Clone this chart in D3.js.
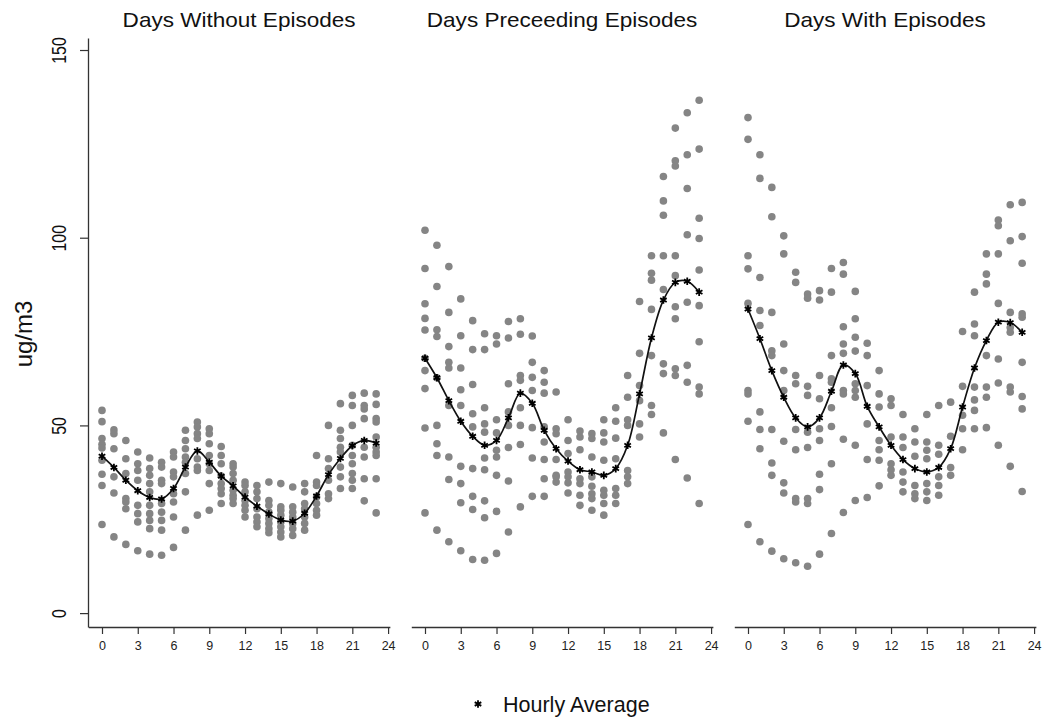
<!DOCTYPE html>
<html>
<head>
<meta charset="utf-8">
<script src="https://cdn.jsdelivr.net/npm/d3@7"></script>
<style>
  body { margin: 0; background: #fff; }
  svg { font-family: "Liberation Sans", Arial, Helvetica, sans-serif; }
</style>
</head>
<body>
<svg id="chart" width="1047" height="721"></svg>
<script>
// panel titles
const panels = ["Days Without Episodes", "Days Preceeding Episodes", "Days With Episodes"];
const hours = d3.range(24);
const xTicks = [0, 3, 6, 9, 12, 15, 18, 21, 24];
const yTicks = [0, 50, 100, 150];

// hourly averages, one per panel
const avgWithout = [41.8, 38.8, 35.4, 32.6, 30.8, 30.4, 33.2, 38.9, 43.2, 40.2, 36.5, 33.9, 30.9, 28.5, 26.4, 24.8, 24.5, 26.6, 31.2, 36.9, 41.2, 44.6, 46.0, 45.3];
const avgPreceeding = [67.9, 62.7, 56.6, 51.1, 47.1, 44.7, 46.0, 52.0, 58.6, 55.9, 48.7, 43.8, 40.5, 38.2, 37.6, 36.7, 38.5, 44.7, 58.4, 73.3, 83.4, 88.1, 88.4, 85.5];
const avgWith = [81.0, 73.1, 64.6, 57.5, 52.0, 49.6, 52.0, 59.1, 66.1, 63.8, 55.1, 49.6, 44.7, 40.9, 38.5, 37.6, 38.8, 43.8, 54.9, 65.3, 72.6, 77.5, 77.4, 74.8];

// daily observations, one list per hour
const obsWithout = [
  [54, 51, 46.5, 45, 44, 40.7, 37, 34, 23.6],
  [48.8, 47.8, 43.8, 36.3, 32, 20.3],
  [46, 41.1, 37.2, 30.5, 29.6, 27.8, 18.3],
  [42.9, 39.8, 38, 35.4, 28.7, 26.5, 24.3, 16.6],
  [41.3, 38.5, 36.7, 34.5, 32.3, 28.7, 26.5, 24.7, 22.5, 15.7],
  [40.2, 38.9, 35.4, 34.5, 29.2, 26.9, 24.7, 22.1, 15.4],
  [42.9, 41.6, 37.6, 36.3, 31.8, 29.6, 25.6, 17.5],
  [48.7, 46, 43.8, 41.6, 40.2, 37.2, 32.3, 22.1],
  [50.9, 49.6, 47.8, 46.5, 41.1, 38.9, 38, 26.1],
  [49.1, 47.8, 45.1, 42, 39.8, 38, 34.5, 27.4],
  [44.4, 42, 39.8, 36.5, 34.5, 33.2, 31.8, 29.2],
  [39.8, 38.9, 37.2, 35.4, 32.7, 31.4, 30.5, 29.2],
  [34.9, 34, 32.3, 30, 28.7, 27.4, 25.6],
  [34, 32.3, 30.5, 27.8, 25.6, 24.3, 23],
  [34.9, 30, 28.7, 26.9, 25.2, 23.9, 22.5, 21.4],
  [34.5, 28.3, 27.4, 26.1, 24.3, 23, 21.6, 20.3],
  [33.6, 28.3, 26.9, 25.6, 23.9, 22.5, 20.7],
  [34.5, 32.3, 29.2, 27.8, 25.6, 23.9, 22.1],
  [42, 34.9, 34, 30.9, 29.2, 27.4, 26.1],
  [50, 41.1, 38.5, 35.4, 31.8, 30.5],
  [55.8, 48.7, 46.5, 44.2, 42.9, 38.9, 36.3, 33.2],
  [58, 55.3, 50, 44.7, 42, 39.8, 37.2, 35.4, 33.2],
  [58.6, 55.3, 54.4, 51.8, 44.2, 41.6, 35.8, 29.9],
  [58.4, 55.6, 51.8, 50.9, 46.9, 44.2, 42.9, 42, 35.8, 26.7]
];
const obsPreceeding = [
  [102, 91.8, 82.4, 78.5, 75.4, 67.9, 64.6, 59.8, 49.3, 26.7],
  [98, 87, 75.5, 73.7, 62.7, 50, 45.1, 42, 22.1],
  [92.3, 80.1, 71, 66.8, 65.3, 55.3, 41.6, 35.6, 19],
  [83.7, 73.9, 65.3, 59.5, 55.3, 39.1, 34.5, 29.4, 16.6],
  [77.9, 70.2, 60.9, 53.1, 49.6, 38.5, 31.1, 27.6, 14.3],
  [74.4, 70.2, 54.7, 50.4, 48.2, 41.3, 38.2, 29.9, 25.4, 14.1],
  [73.9, 71.7, 51.5, 48, 43.4, 41.6, 36.7, 27.1, 15.9],
  [77.7, 73.3, 61.1, 53.6, 50, 44.1, 35.2, 21.6],
  [78.4, 74.3, 63.3, 62, 54.7, 50, 44.9, 28.3],
  [73.8, 66.8, 62.8, 59.3, 49.4, 41.3, 31.1],
  [64.6, 61.5, 58.6, 49.6, 45.6, 40.9, 35.8, 31.1],
  [58.9, 49.1, 47.8, 40.9, 36.7, 36.3, 34.9],
  [51.5, 46, 42.5, 37.6, 36.3, 34.7, 32],
  [48.5, 46.9, 43.5, 35.8, 34.5, 31.4, 28.7],
  [47.8, 46.5, 41.6, 36.3, 33.8, 31.8, 30.5, 27.4],
  [51.5, 48, 45.6, 40.7, 32.7, 31.4, 29.2, 26.1],
  [54.7, 51.1, 46.6, 41.1, 33.2, 31.4, 29.2],
  [63.3, 57.5, 51.5, 50, 38, 36.3, 34.5],
  [83, 69.2, 60.6, 56.6, 50.4, 46.9],
  [95.2, 90.5, 88.7, 80.9, 68.6, 55.3, 52.9],
  [116.3, 109.8, 106, 95.2, 86.2, 66.4, 63.8, 48],
  [129.2, 120.5, 119.1, 95.2, 89.9, 81.6, 78.4, 65.1, 63.3, 40.9],
  [133.3, 122.1, 113.1, 100.8, 82.8, 66, 61.5, 36],
  [136.6, 123.6, 105.2, 99.8, 91.4, 81.9, 72.3, 60.2, 58.4, 29.2]
];
const obsWith = [
  [132, 126.2, 95.2, 91.7, 82.5, 59.3, 58.4, 51.1, 23.6],
  [122.1, 115.8, 89.4, 80.6, 76.6, 53.6, 48.9, 43.8, 19],
  [113.4, 105.6, 80.1, 69.9, 68.6, 48.9, 40, 36.7, 16.5],
  [100.5, 95.7, 71.7, 64.6, 59.3, 45.8, 34.7, 32, 14.5],
  [90.8, 88.1, 63.3, 61.1, 48.9, 43.5, 30.5, 29.6, 13.4],
  [85, 83.9, 60.4, 58, 48.2, 44.1, 30.5, 29.2, 12.5],
  [85.9, 83.4, 63.3, 57.1, 49.1, 46, 37, 32.9, 15.7],
  [91.8, 85.5, 68.6, 62.4, 61.5, 54.7, 49.7, 39.8, 21.2],
  [93.4, 90.3, 76.3, 71.7, 69.2, 59.3, 58.4, 46.3, 26.8],
  [85.7, 78.4, 73.5, 69.8, 61.1, 59.3, 57.5, 44.7, 30],
  [71.9, 68.6, 60.6, 50.4, 40.9, 30.8],
  [64.6, 58.4, 54.9, 46, 43.5, 40.7, 33.9],
  [57.1, 55.3, 46.9, 39.8, 38.2, 36.7],
  [52.9, 46.9, 44.1, 37.6, 34.9, 32.3],
  [49.1, 45.6, 41.8, 34, 31.8, 30.5],
  [52.9, 45.6, 43.4, 41.1, 34.5, 32.3, 30],
  [55.3, 44.7, 42.3, 36.3, 34, 31.4],
  [56.2, 47.1, 38.8, 36.7],
  [75, 60.4, 52.7, 49.1, 43.5],
  [85.5, 77, 73.9, 60.2, 56.8, 54, 49.1],
  [95.7, 90.3, 87.7, 68.6, 60.2, 57.5, 49.4],
  [104.7, 103.2, 95.7, 82.5, 67.7, 61.3, 44.7],
  [108.8, 99.2, 80.1, 76.1, 74.8, 60.2, 58.9, 39.1],
  [109.4, 100.3, 93.2, 79.7, 78.8, 66.8, 57.7, 54.4, 32.4]
];

const averages = [avgWithout, avgPreceeding, avgWith];
const observations = [obsWithout, obsPreceeding, obsWith];

const svg = d3.select("#chart");
const hourPx = 11.92;
const panelLeft = [102, 425, 748];   // pixel of hour 0 in each panel

const y = d3.scaleLinear().domain([-3.7, 153.2]).range([627, 38]);

// y axis, only on the first panel
const yAxis = svg.append("g")
    .attr("transform", "translate(88,0)")
    .call(d3.axisLeft(y).tickValues(yTicks).tickSize(8).tickSizeOuter(0).tickPadding(6));
yAxis.select(".domain").attr("stroke", "#333").attr("stroke-width", 1.3);
yAxis.selectAll(".tick line").attr("stroke", "#333").attr("stroke-width", 1.2);
yAxis.selectAll(".tick text")
    .attr("text-anchor", "middle")
    .attr("x", 0).attr("dy", 0)
    .attr("transform", "translate(-22,0) scale(1.3,1) rotate(-90)")
    .attr("font-size", 16).attr("fill", "#111");

svg.append("text")
    .attr("transform", "translate(32,334) rotate(-90)")
    .attr("text-anchor", "middle")
    .attr("font-size", 24)
    .attr("fill", "#111")
    .text("ug/m3");

const line = d3.line().curve(d3.curveCatmullRom.alpha(0.5));
const star = d3.symbol().type(d3.symbolAsterisk).size(40);

panels.forEach((title, p) => {
  const x0 = panelLeft[p];
  const x = d3.scaleLinear()
      .domain([-1.15, 24.15])
      .range([x0 - 1.15 * hourPx, x0 + 24.15 * hourPx]);

  const g = svg.append("g");

  const xAxis = g.append("g")
      .attr("transform", "translate(0,627)")
      .call(d3.axisBottom(x).tickValues(xTicks).tickSize(7).tickSizeOuter(0).tickPadding(7));
  xAxis.select(".domain").attr("stroke", "#333").attr("stroke-width", 1.3);
  xAxis.selectAll(".tick line").attr("stroke", "#333").attr("stroke-width", 1.2);
  xAxis.selectAll(".tick text").attr("font-size", 12.5).attr("fill", "#222");

  const [a, b] = x.range();
  g.append("text")
      .attr("transform", `translate(${(a + b) / 2},27) scale(1.1,1)`)
      .attr("text-anchor", "middle")
      .attr("font-size", 20.5)
      .attr("fill", "#111")
      .text(title);

  const pts = [];
  observations[p].forEach((vals, h) => vals.forEach(v => pts.push([h, v])));

  g.append("g").selectAll("circle")
      .data(pts)
      .join("circle")
      .attr("cx", d => x(d[0]))
      .attr("cy", d => y(d[1]))
      .attr("r", 3.8)
      .attr("fill", "#858585");

  const avg = hours.map(h => [x(h), y(averages[p][h])]);

  g.append("path")
      .attr("d", line(avg))
      .attr("fill", "none")
      .attr("stroke", "#111")
      .attr("stroke-width", 1.7);

  g.append("g").selectAll("path")
      .data(avg)
      .join("path")
      .attr("transform", d => `translate(${d[0]},${d[1]})`)
      .attr("d", star)
      .attr("fill", "none")
      .attr("stroke", "#000")
      .attr("stroke-width", 1.8);
});

// legend
svg.append("path")
    .attr("transform", "translate(478,704)")
    .attr("d", star)
    .attr("fill", "none")
    .attr("stroke", "#000")
    .attr("stroke-width", 1.8);
svg.append("text")
    .attr("x", 503).attr("y", 712)
    .attr("font-size", 21.5)
    .attr("fill", "#111")
    .text("Hourly Average");
</script>
</body>
</html>
